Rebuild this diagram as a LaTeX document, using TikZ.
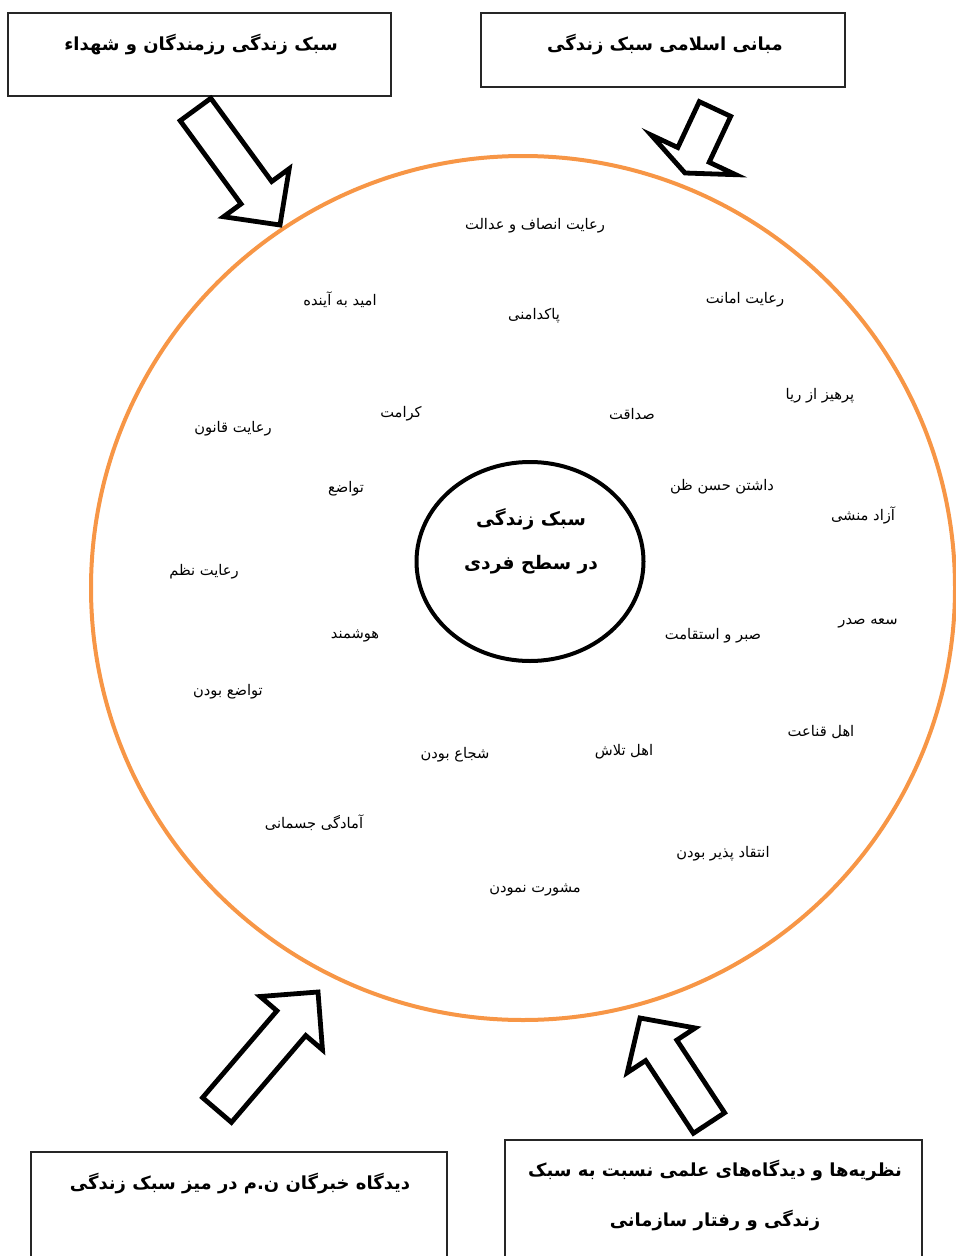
\documentclass[tikz,border=0pt]{standalone}
\usepackage{fontspec}
\usepackage{xcolor}
\usepackage{tikz}
\usetikzlibrary{positioning,calc}

\TeXXeTstate=1
\newfontfamily\fafont[Script=Arabic]{DejaVu Sans}
\newcommand{\rtl}[1]{\beginR#1\endR}
\definecolor{ringorange}{HTML}{F79646}

% hollow block arrow: tail, tip, half shaft, half head, head length
\newcommand{\blockarrow}[5]{%
  \coordinate (bh) at ($#2!#5!#1$);
  \draw[fatarrow] ($#1!#3!90:#2$) -- ($(bh)!#3!90:#2$) -- ($(bh)!#4!90:#2$) -- #2
    -- ($(bh)!#4!-90:#2$) -- ($(bh)!#3!-90:#2$) -- ($#1!#3!-90:#2$) -- cycle;}

\begin{document}
\begin{tikzpicture}[
    x=0.75pt, y=-0.75pt,
    frame/.style={draw=black!85, line width=0.8pt},
    title/.style={font=\fafont\bfseries\fontsize{13.5}{37.5}\selectfont, align=center},
    core/.style={font=\fafont\bfseries\fontsize{14}{33}\selectfont, align=center},
    trait/.style={font=\fafont\fontsize{11}{13}\selectfont},
    fatarrow/.style={draw, line width=3.6pt, fill=white, miter limit=10}
]
    \useasboundingbox (0,0) rectangle (956,1256);

    % outer ring and core
    \draw[ringorange, line width=3pt] (523,588) circle [radius=432];
    \draw[line width=3pt] (530,561.5) ellipse [x radius=113.5, y radius=99.5];
    \node[core] (core) at (531,541) {\rtl{سبک زندگی}\\ \rtl{در سطح فردی}};

    % source boxes
    \draw[frame] (8,13) rectangle (391,96);
    \node[title] (rezmandegan) at (201,45) {\rtl{سبک زندگی رزمندگان و شهداء}};
    \draw[frame] (481,13) rectangle (845,87);
    \node[title] (mabani) at (665,45) {\rtl{مبانی اسلامی سبک زندگی}};
    \draw[frame] (31,1152) rectangle (447,1262);
    \node[title] (khebregan) at (240,1183) {\rtl{دیدگاه خبرگان ن.م در میز سبک زندگی}};
    \draw[frame] (505,1140) rectangle (922,1262);
    \node[title] (nazariyeha) at (715,1195) {\rtl{نظریه^^^^200cها و دیدگاه^^^^200cهای علمی نسبت به سبک}\\ \rtl{زندگی و رفتار سازمانی}};

    % arrows into the ring
    \coordinate (t1) at (195.5,109.5); \coordinate (p1) at (280,225);
    \coordinate (t2) at (715,109);     \coordinate (p2) at (685,173);
    \coordinate (t3) at (217,1110);    \coordinate (p3) at (318,992);
    \coordinate (t4) at (709,1123);    \coordinate (p4) at (640,1018);
    \blockarrow{(t1)}{(p1)}{14.25pt}{30.5pt}{30pt}
    \blockarrow{(t2)}{(p2)}{13pt}{35pt}{15pt}
    \blockarrow{(t3)}{(p3)}{14.25pt}{30.75pt}{30.75pt}
    \blockarrow{(t4)}{(p4)}{14pt}{30.5pt}{29pt}

    % traits
    \node[trait] (insaf) at (535,226) {\rtl{رعایت انصاف و عدالت}};
    \node[trait] (omid) at (340,300) {\rtl{امید به آینده}};
    \node[trait] (pakdamani) at (534,316) {\rtl{پاکدامنی}};
    \node[trait] (amanat) at (745,300) {\rtl{رعایت امانت}};
    \node[trait] (riya) at (820,396) {\rtl{پرهیز از ریا}};
    \node[trait] (keramat) at (401,414) {\rtl{کرامت}};
    \node[trait] (sedaghat) at (632,414) {\rtl{صداقت}};
    \node[trait] (ghanun) at (233,429) {\rtl{رعایت قانون}};
    \node[trait] (tavazo) at (346,489) {\rtl{تواضع}};
    \node[trait] (hosnezan) at (722,487) {\rtl{داشتن حسن ظن}};
    \node[trait] (azadmanesh) at (863,515) {\rtl{آزاد منشی}};
    \node[trait] (nazm) at (204,572) {\rtl{رعایت نظم}};
    \node[trait] (hushmand) at (355,636) {\rtl{هوشمند}};
    \node[trait] (sabr) at (713,636) {\rtl{صبر و استقامت}};
    \node[trait] (saesadr) at (868,623) {\rtl{سعه صدر}};
    \node[trait] (tavazobudan) at (228,692) {\rtl{تواضع بودن}};
    \node[trait] (ghenaat) at (821,732) {\rtl{اهل قناعت}};
    \node[trait] (talash) at (624,752) {\rtl{اهل تلاش}};
    \node[trait] (shoja) at (455,755) {\rtl{شجاع بودن}};
    \node[trait] (amadegi) at (314,823) {\rtl{آمادگی جسمانی}};
    \node[trait] (enteghad) at (723,854) {\rtl{انتقاد پذیر بودن}};
    \node[trait] (mashverat) at (535,890) {\rtl{مشورت نمودن}};
\end{tikzpicture}
\end{document}
